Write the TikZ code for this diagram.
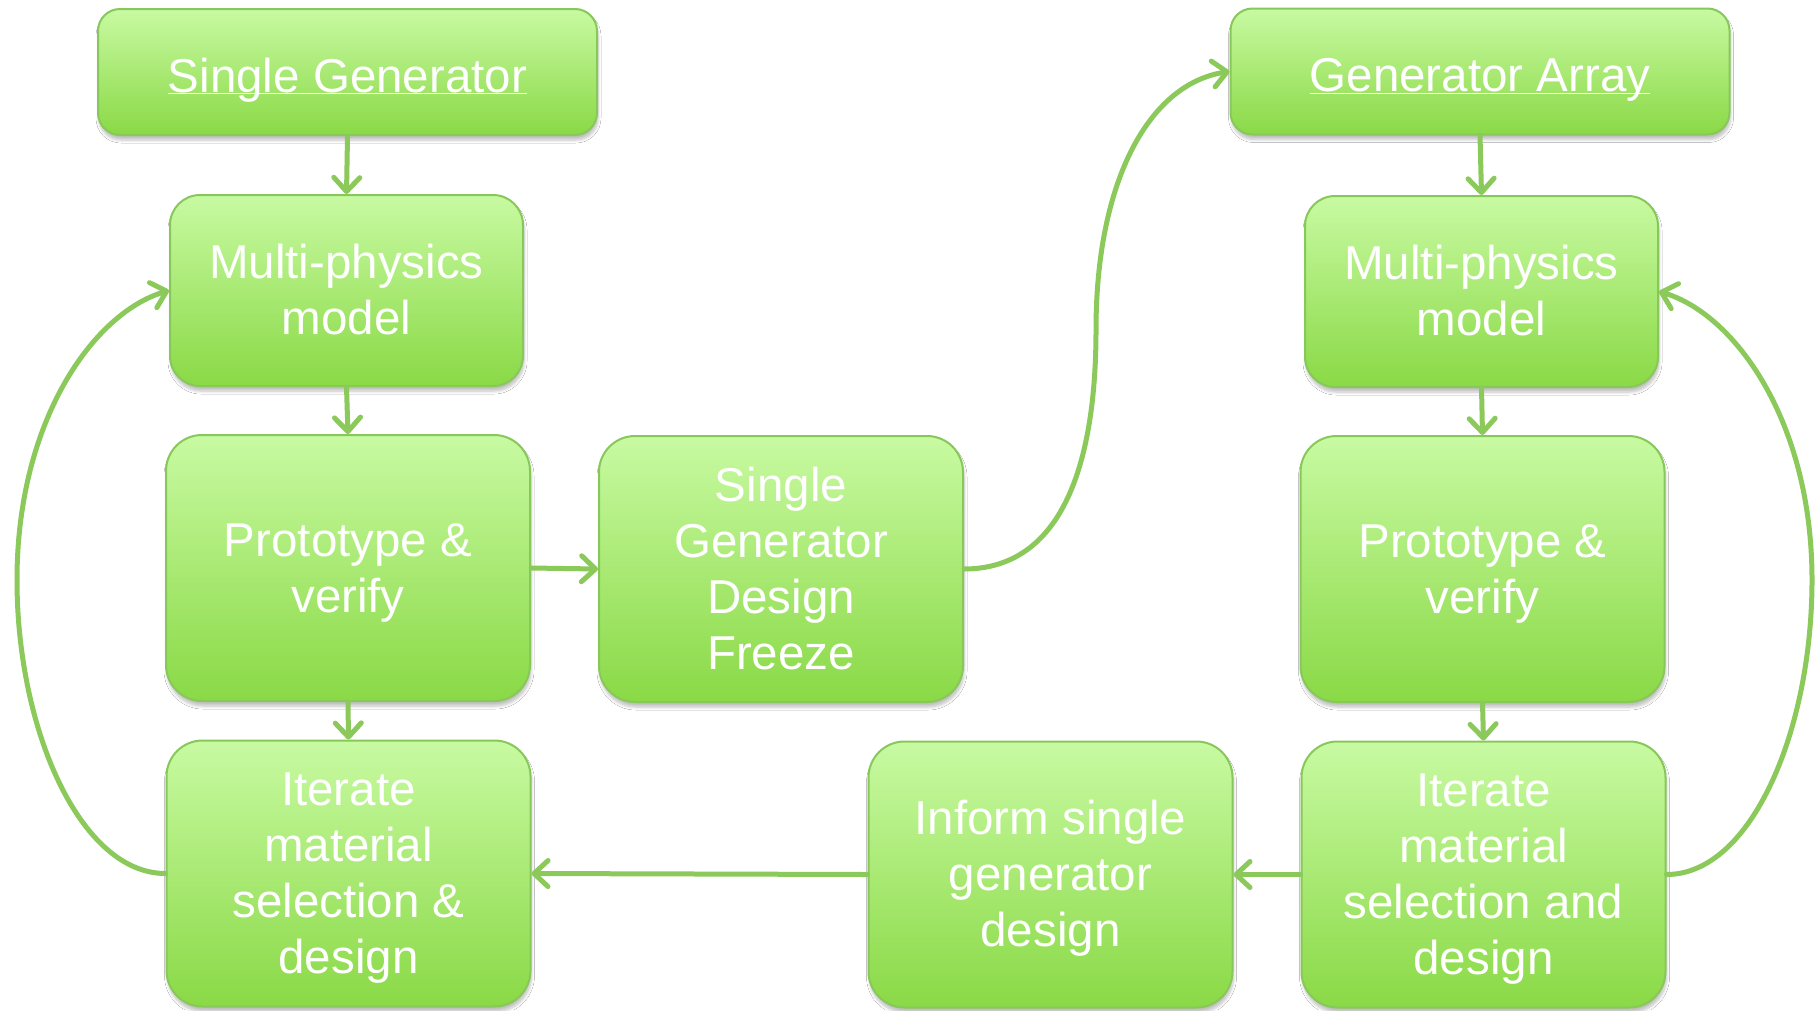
\documentclass[tikz,border=0pt]{standalone}
\usepackage{fontspec}
\setmainfont{Liberation Sans}
\usetikzlibrary{arrows.meta,shadows.blur}

\definecolor{boxtop}{RGB}{200,250,162}
\definecolor{boxbot}{RGB}{138,217,70}
\definecolor{boxline}{RGB}{136,200,90}
\definecolor{flowgreen}{RGB}{139,201,90}

% line struts: every text block is centred on fixed ascent and descent
\newcommand{\ls}{\rule[-10pt]{0pt}{52.6pt}}
\newcommand{\hs}{\rule[-10pt]{0pt}{60pt}}
% underlined heading with the rule crossing the descenders
\newcommand{\headline}[1]{\hs\underline{\raisebox{0pt}[\height][0pt]{#1}}}

\tikzset{
  stage/.style={draw=boxline, line width=2pt, top color=boxtop, bottom color=boxbot,
    text=white, align=center, inner sep=0pt,
    font=\fontsize{47.5}{56}\selectfont,
    blur shadow={shadow xshift=1pt, shadow yshift=-5pt, shadow opacity=25,
      shadow blur radius=3pt, shadow blur steps=6}},
  headbox/.style={stage, rounded corners=22pt, minimum width=499pt, minimum height=126pt},
  modelbox/.style={stage, rounded corners=30pt, minimum width=353pt, minimum height=191pt},
  bigbox/.style={stage, rounded corners=36pt, minimum width=364pt, minimum height=266pt},
  flow/.style={draw=flowgreen, line width=5pt, line cap=round,
    -{Straight Barb[length=14pt, width=26pt, round]}}
}

\begin{document}
\begin{tikzpicture}[x=1pt, y=-1pt]
\useasboundingbox[fill=white] (0,0) rectangle (1819,1010);

% single generator column
\node[headbox]  (sgTop) at (347.5,72)  {\headline{Single Generator}};
\node[modelbox] (mpL)   at (346.5,290.5) {\ls Multi-physics\\model\ls};
\node[bigbox]   (pvL)   at (348,568)   {\ls Prototype \&\\verify\ls};
\node[bigbox]   (itL)   at (348.5,873.5) {\ls Iterate\\material\\selection \&\\design\ls};

% hand-over boxes in the middle
\node[bigbox]   (sgdf)  at (781,569)   {\ls Single\\Generator\\Design\\Freeze\ls};
\node[bigbox]   (inform) at (1050.5,874.5) {\ls Inform single\\generator\\design\ls};

% generator array column
\node[headbox]  (gaTop) at (1480,71.5) {\headline{Generator Array}};
\node[modelbox] (mpR)   at (1481.5,291.5) {\ls Multi-physics\\model\ls};
\node[bigbox]   (pvR)   at (1482.5,569) {\ls Prototype \&\\verify\ls};
\node[bigbox]   (itR)   at (1483.5,874.5) {\ls Iterate\\material\\selection and\\design\ls};

% bend points of the curved connectors
\coordinate (lbend) at (17,580);
\coordinate (rbend) at (1812,580);
\coordinate (sbend) at (1096,330);

% straight connectors
\draw[flow] (sgTop.south) -- (mpL.north);
\draw[flow] (mpL.south) -- (pvL.north);
\draw[flow] (pvL.south) -- (itL.north);
\draw[flow] (pvL.east) -- (sgdf.west);
\draw[flow] (gaTop.south) -- (mpR.north);
\draw[flow] (mpR.south) -- (pvR.north);
\draw[flow] (pvR.south) -- (itR.north);
\draw[flow] (itR.west) -- (inform.east);
\draw[flow] (inform.west) -- (itL.east);

% iteration loops
\draw[flow] (itL.west) .. controls +(-85,0) and +(0,150) .. (lbend)
            .. controls +(0,-160) and +(-75,22) .. (mpL.west);
\draw[flow] (itR.east) .. controls +(85,0) and +(0,150) .. (rbend)
            .. controls +(0,-160) and +(75,22) .. (mpR.east);

% design freeze feeds the array
\draw[flow] (sgdf.east) .. controls +(100,0) and +(0,130) .. (sbend)
            .. controls +(0,-150) and +(-80,12) .. (gaTop.west);
\end{tikzpicture}
\end{document}
